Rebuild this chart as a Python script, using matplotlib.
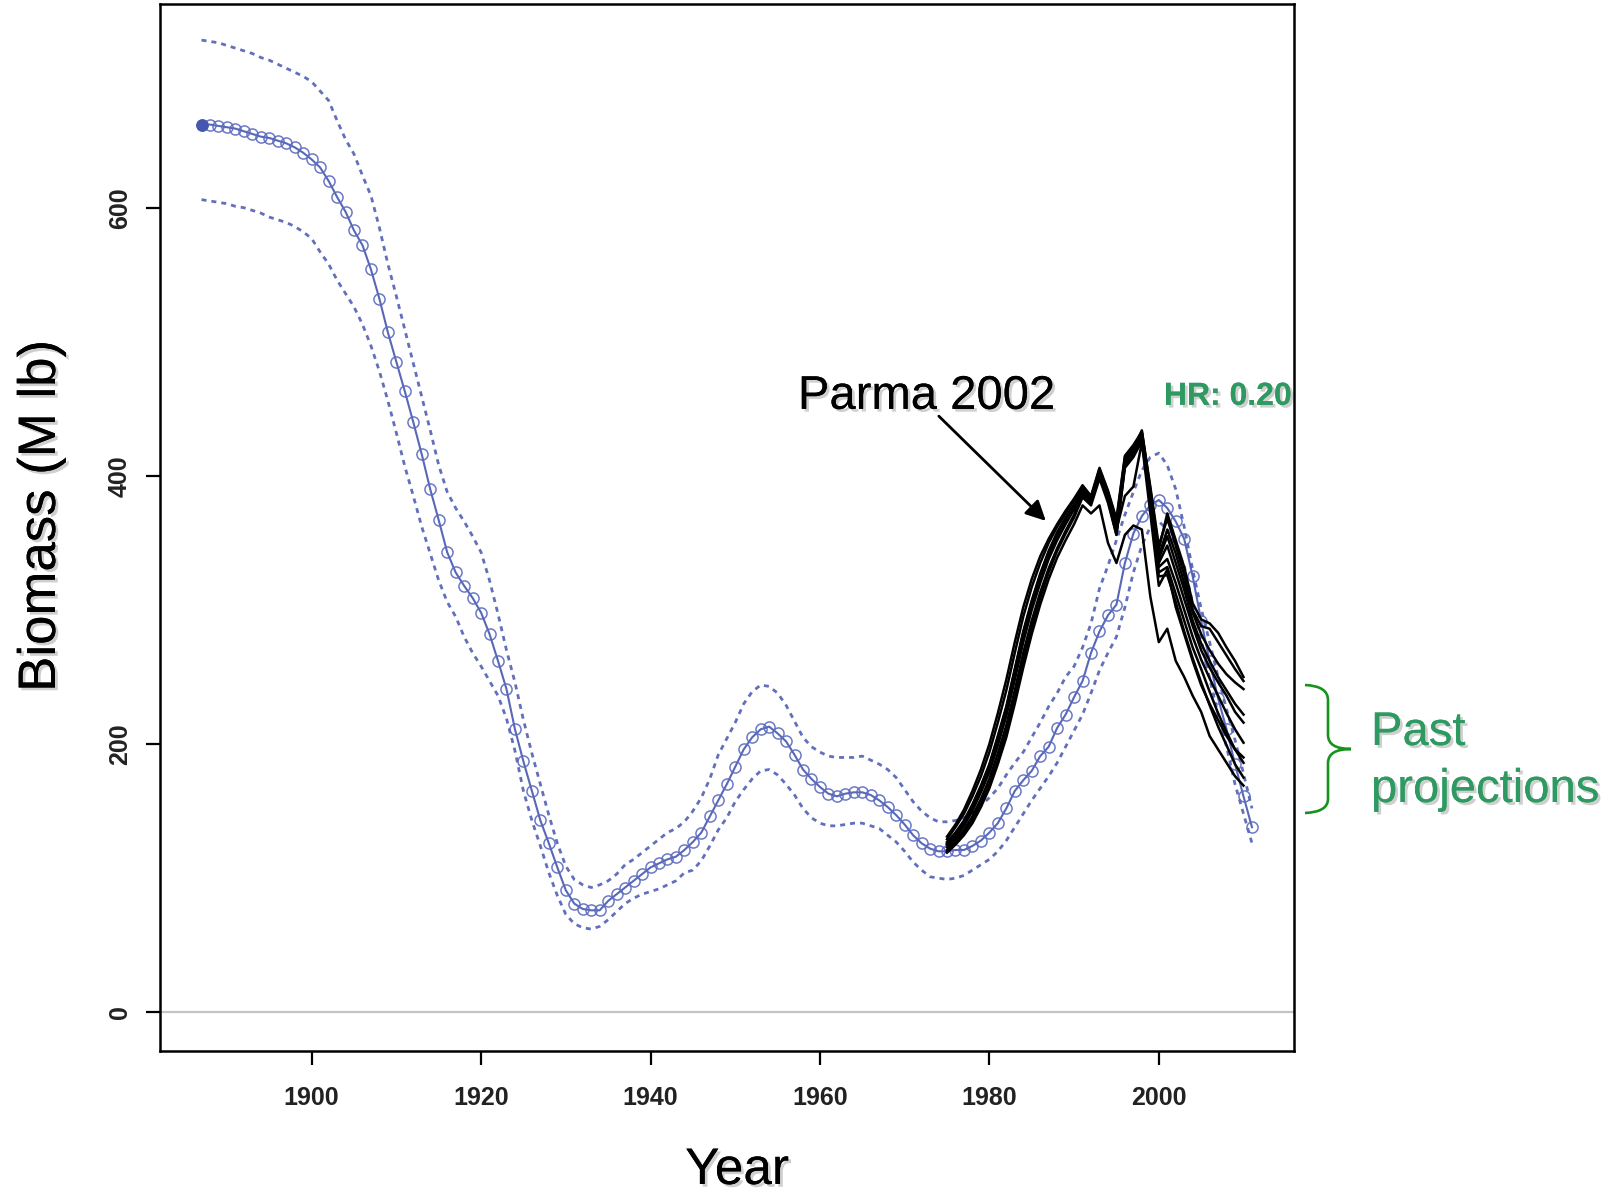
import numpy as np
import matplotlib
matplotlib.use('Agg')
import matplotlib.pyplot as plt
import matplotlib.patheffects as pe
from matplotlib.path import Path
from matplotlib.patches import PathPatch

# stock assessment estimates, 1887-2011 (M lb)
years = np.arange(1887, 2012)

biomass = [662, 662, 661, 660, 659, 657, 655, 653, 652, 650,
           648, 645, 641, 636, 630, 620, 608, 597, 583, 572,
           554, 532, 507, 485, 463, 440, 416, 390, 367, 343,
           328, 318, 309, 298, 282, 262, 241, 211, 187, 165,
           143, 126, 108, 91, 81, 77, 76, 76, 83, 88,
           93, 98, 103, 108, 111, 114, 116, 121, 127, 134,
           146, 158, 170, 183, 196, 205, 211, 213, 208, 202,
           192, 181, 174, 168, 163, 161, 163, 164, 164, 162,
           158, 153, 147, 140, 132, 126, 122, 120, 120, 121,
           121, 124, 128, 134, 141, 152, 165, 173, 180, 191,
           198, 212, 222, 235, 247, 268, 284, 296, 304, 335,
           357, 370, 378, 382, 376, 366, 353, 325, 292, 262,
           234, 211, 185, 161, 138]

upper = [725, 724, 723, 721, 719, 717, 715, 712, 710, 707,
         704, 701, 698, 694, 687, 680, 665, 651, 640, 624,
         609, 585, 558, 534, 509, 484, 459, 434, 408, 388,
         376, 366, 355, 343, 322, 297, 270, 246, 218, 193,
         170, 147, 126, 109, 99, 95, 93, 95, 98, 103,
         110, 114, 119, 124, 129, 134, 137, 142, 150, 160,
         174, 192, 204, 216, 230, 239, 244, 243, 238, 229,
         217, 205, 198, 194, 191, 190, 190, 190, 191, 188,
         185, 181, 175, 166, 157, 150, 145, 142, 142, 143,
         145, 148, 154, 160, 167, 177, 186, 194, 205, 216,
         228, 238, 250, 258, 272, 290, 316, 333, 352, 371,
         388, 404, 414, 417, 408, 390, 362, 330, 301, 276,
         250, 226, 203, 178, 152]

lower = [606, 605, 604, 603, 601, 600, 598, 596, 593, 591,
         589, 586, 582, 577, 567, 558, 546, 536, 526, 513,
         497, 478, 456, 432, 407, 385, 362, 342, 322, 306,
         295, 280, 268, 258, 247, 236, 219, 195, 165, 143,
         124, 104, 87, 73, 66, 63, 62, 64, 69, 75,
         81, 85, 88, 90, 92, 95, 98, 104, 106, 113,
         124, 136, 145, 157, 166, 174, 180, 181, 177, 170,
         162, 152, 145, 141, 139, 139, 140, 141, 141, 139,
         137, 132, 127, 120, 112, 106, 101, 100, 99, 100,
         102, 106, 110, 114, 120, 128, 138, 148, 158, 167,
         176, 186, 198, 210, 222, 238, 255, 268, 280, 302,
         328, 348, 362, 366, 360, 348, 333, 305, 278, 249,
         222, 198, 170, 148, 126]

# past assessments (retrospective runs), 1975-2010
past_years = np.arange(1975, 2011)
past_runs = [
    [127, 134, 143, 155, 169, 185, 206, 228, 256, 284, 307, 327, 344, 358, 369, 379,
     390, 383, 404, 386, 362, 412, 420, 434, 390, 345,
     372, 352, 332, 305, 293, 290, 283, 272, 262, 250],
    [125, 132, 141, 152, 166, 182, 202, 224, 252, 280, 304, 324, 341, 355, 366, 377,
     388, 381, 402, 384, 360, 410, 418, 430, 385, 340,
     360, 342, 320, 298, 282, 270, 260, 252, 246, 241],
    [123, 130, 139, 150, 164, 179, 199, 221, 248, 276, 300, 320, 338, 352, 364, 375,
     386, 380, 400, 382, 356, 408, 416, 428, 380, 335,
     348, 328, 308, 288, 270, 257, 246, 236, 224, 216],
    [129, 138, 148, 161, 176, 194, 216, 240, 268, 295, 317, 335, 350, 362, 372, 382,
     392, 384, 405, 388, 366, 414, 422, 432, 388, 332,
     338, 320, 300, 280, 263, 249, 236, 223, 211, 201],
    [120, 126, 134, 144, 156, 170, 188, 209, 234, 262, 287, 309, 328, 344, 357, 369,
     384, 378, 398, 380, 356, 406, 414, 426, 378, 328,
     332, 312, 292, 272, 256, 239, 223, 209, 196, 186],
    [121, 128, 136, 146, 159, 174, 193, 214, 240, 268, 292, 313, 331, 346, 359, 371,
     387, 380, 401, 383, 358, 409, 417, 429, 382, 325,
     326, 306, 284, 264, 246, 229, 213, 199, 185, 175],
    [119, 125, 132, 141, 153, 167, 185, 205, 230, 257, 282, 304, 323, 339, 352, 364,
     378, 372, 378, 350, 335, 356, 363, 360, 310, 276,
     286, 262, 250, 236, 224, 206, 196, 186, 176, 169],
    [126, 133, 142, 153, 167, 183, 203, 226, 254, 282, 305, 325, 342, 356, 368, 378,
     389, 382, 403, 385, 360, 385, 392, 425, 372, 318,
     330, 302, 282, 262, 244, 230, 218, 206, 196, 190],
    [125, 133, 142, 154, 168, 184, 205, 227, 255, 283, 306, 326, 343, 357, 368, 378,
     389, 382, 402, 384, 362, 411, 419, 431, 386, 338,
     355, 335, 315, 292, 275, 262, 250, 240, 230, 222],
    [131, 140, 151, 165, 181, 200, 223, 248, 276, 302, 323, 340, 353, 364, 374, 383,
     393, 385, 406, 389, 368, 415, 423, 433, 392, 348,
     368, 348, 326, 300, 288, 286, 276, 266, 256, 247],
]

xticks = [1900, 1920, 1940, 1960, 1980, 2000]
yticks = [0, 200, 400, 600]

blue = '#4657B0'
green = '#2E9A62'
shadow = [pe.withSimplePatchShadow(offset=(2, -2), shadow_rgbFace='#777777', alpha=0.35), pe.Normal()]

W, H = 1614, 1193
fig = plt.figure(figsize=(W / 100, H / 100), dpi=100)
ax = fig.add_axes([159.5 / W, 1 - 1051 / H, (1294 - 159.5) / W, (1051 - 4) / H])

# zero line
ax.axhline(0, color='#c4c4c4', lw=1.6, zorder=1)

# estimate with interval
ax.plot(years, upper, color=blue, lw=2, ls=(0, (1.8, 1.8)), alpha=0.85, zorder=2)
ax.plot(years, lower, color=blue, lw=2, ls=(0, (1.8, 1.8)), alpha=0.85, zorder=2)
ax.plot(years, biomass, color=blue, lw=1.5, marker='o', ms=8, mfc='none',
        mec='#5b6bc0', mew=1.1, alpha=0.9, zorder=3)
ax.plot(years[:1], biomass[:1], 'o', color=blue, ms=8, zorder=3)

# past projections
for run in past_runs:
    ax.plot(past_years, run, color='black', lw=1.8, zorder=4)

ax.set_xlim(1882.04, 2015.96)
ax.set_ylim(-28.92, 751.92)
ax.set_xticks(xticks)
ax.set_yticks(yticks)
ax.set_xticklabels([str(t) for t in xticks])
ax.set_yticklabels([str(t) for t in yticks], rotation=90, va='center')
for lab in ax.get_xticklabels() + ax.get_yticklabels():
    lab.set_family('Liberation Sans')
    lab.set_fontsize(18)
    lab.set_fontweight('bold')
    lab.set_color('#222222')
ax.tick_params(axis='x', length=10, width=1.6, pad=15)
ax.tick_params(axis='y', length=10, width=1.6, pad=10)
for s in ax.spines.values():
    s.set_linewidth(1.8)

# annotations
ax.text(1972.6, 450, 'Parma 2002', fontsize=34, family='Liberation Sans',
        ha='center', va='baseline', path_effects=shadow, zorder=6)
ax.annotate('', xy=(1986.9, 365), xytext=(1973.8, 446),
            arrowprops=dict(arrowstyle='-|>', color='black', lw=2, mutation_scale=30), zorder=6)
ax.text(2000.6, 453, 'HR: 0.20', fontsize=23, family='Liberation Sans', weight='bold',
        color=green, ha='left', va='baseline', path_effects=shadow, zorder=6)

fig.text(41 / W, 1 - 516 / H, 'Biomass (M lb)', rotation=90, fontsize=38,
         family='Liberation Sans', ha='center', va='center', path_effects=shadow)
fig.text(737 / W, 1 - 1184 / H, 'Year', fontsize=37, family='Liberation Sans',
         ha='center', va='baseline', path_effects=shadow)

fig.text(1371 / W, 1 - 745 / H, 'Past', fontsize=34, family='Liberation Sans',
         color=green, ha='left', va='baseline', path_effects=shadow)
fig.text(1371 / W, 1 - 802 / H, 'projections', fontsize=34, family='Liberation Sans',
         color=green, ha='left', va='baseline', path_effects=shadow)

# curly brace next to the projections
pts = [(1305, 685), (1328, 686), (1328, 700), (1328, 735), (1328, 749), (1351, 749),
       (1328, 749), (1328, 763), (1328, 799), (1328, 812), (1305, 813)]
codes = [Path.MOVETO, Path.CURVE3, Path.CURVE3, Path.LINETO, Path.CURVE3, Path.CURVE3,
         Path.CURVE3, Path.CURVE3, Path.LINETO, Path.CURVE3, Path.CURVE3]
brace = Path([(x / W, 1 - y / H) for x, y in pts], codes)
fig.add_artist(PathPatch(brace, transform=fig.transFigure, fill=False,
                         edgecolor='#16931c', lw=1.9))

fig.savefig('out.png', dpi=100)
